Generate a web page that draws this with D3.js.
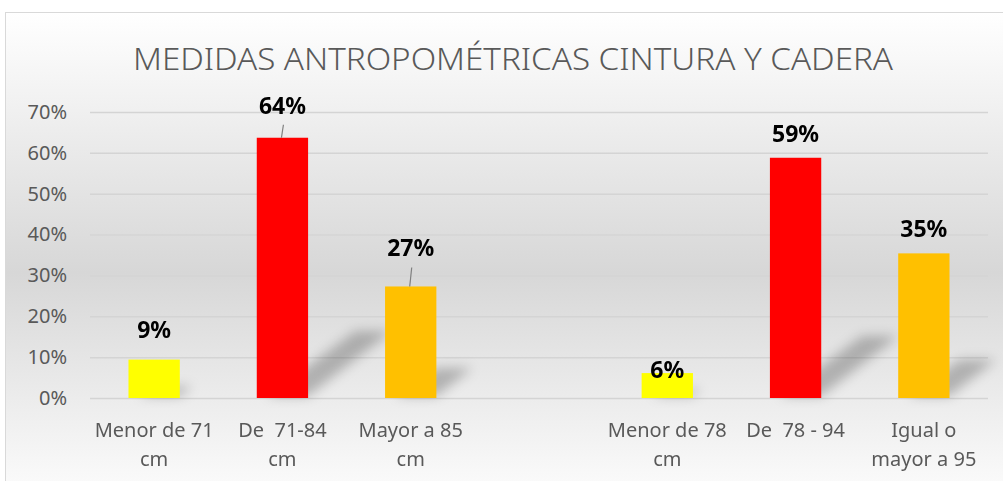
<!DOCTYPE html>
<html>
<head>
<meta charset="utf-8">
<script src="https://cdn.jsdelivr.net/npm/d3@7"></script>
<style>
  body { margin: 0; background: #fff; }
  svg { display: block; }
  text { font-family: "Noto Sans", "Open Sans", sans-serif; }
</style>
</head>
<body>
<div id="chart"></div>
<script>
// medidas de cintura y cadera (porcentaje por rango)
const title = 'MEDIDAS ANTROPOMÉTRICAS CINTURA Y CADERA';
const categories = ['Menor de 71\ncm', 'De  71-84\ncm', 'Mayor a 85\ncm', ' ', 'Menor de 78\ncm', 'De  78 - 94', 'Igual o\nmayor a 95'];
const values = [0.094, 0.637, 0.273, null, 0.061, 0.588, 0.354];
const colors = ['#ffff00', '#ff0000', '#ffc000', 'none', '#ffff00', '#ff0000', '#ffc000'];
const yTicks = [0, 0.1, 0.2, 0.3, 0.4, 0.5, 0.6, 0.7];

// etiquetas movidas a mano (px sobre la barra) y si llevan linea guia
const labelLift = [22, 24, 30, 0, -5, 16, 16];
const leader = [false, true, true, false, false, false, false];

const width = 1003;
const height = 481;
const margin = {top: 112, left: 90, bottom: 83, right: 15};

const x = d3.scaleBand()
  .domain(categories)
  .range([margin.left, width - margin.right])
  .paddingInner(0.6)
  .paddingOuter(0.3);

const y = d3.scaleLinear()
  .domain([0, 0.7])
  .range([height - margin.bottom, margin.top]);

const fmt = d3.format('.0%');

const svg = d3.select('#chart').append('svg')
  .attr('width', width)
  .attr('height', height);

const defs = svg.append('defs');
const grad = defs.append('linearGradient')
  .attr('id', 'bg').attr('x1', 0).attr('y1', 0).attr('x2', 0).attr('y2', 1);
grad.append('stop').attr('offset', '0%').attr('stop-color', '#ffffff');
grad.append('stop').attr('offset', '52%').attr('stop-color', '#d7d7d7');
grad.append('stop').attr('offset', '100%').attr('stop-color', '#ffffff');

defs.append('filter').attr('id', 'blur')
  .attr('x', '-50%').attr('y', '-50%').attr('width', '200%').attr('height', '200%')
  .append('feGaussianBlur').attr('stdDeviation', 6);

// fondo y marco
svg.append('rect')
  .attr('x', 5.5).attr('y', 12.5)
  .attr('width', width + 20).attr('height', height + 20)
  .attr('fill', 'url(#bg)')
  .attr('stroke', '#d9d9d9');

svg.append('text')
  .attr('x', (133 + 893) / 2).attr('y', 70)
  .attr('text-anchor', 'middle')
  .attr('font-size', 32)
  .attr('font-weight', 300)
  .attr('fill', '#595959')
  .attr('textLength', 760)
  .attr('lengthAdjust', 'spacingAndGlyphs')
  .text(title);

// eje y + lineas de cuadricula
const yAxis = g => g
  .attr('transform', `translate(${margin.left}, 0)`)
  .call(d3.axisLeft(y).tickValues(yTicks).tickFormat(fmt).tickSize(0).tickPadding(23))
  .call(g => g.select('.domain').remove())
  .call(g => g.selectAll('text')
    .attr('font-size', 20)
    .attr('fill', '#595959')
    .style('font-family', '"Noto Sans", sans-serif'))
  .call(g => g.selectAll('.tick').append('line')
    .attr('x1', 0).attr('x2', width - margin.right - margin.left)
    .attr('stroke', '#d4d4d4').attr('stroke-width', 1.5));

svg.append('g').call(yAxis);

const data = categories.map((c, i) => ({cat: c, value: values[i], color: colors[i], lift: labelLift[i], leader: leader[i]}))
  .filter(d => d.value != null);

// sombras en perspectiva detras de las barras
svg.append('g')
  .attr('filter', 'url(#blur)')
  .selectAll('path').data(data).enter().append('path')
  .attr('d', d => {
    const x0 = x(d.cat) + x.bandwidth() * 0.2;
    const x1 = x(d.cat) + x.bandwidth();
    const b = y(0) - 2;
    const h = y(0) - y(d.value);
    const dx = h * 0.32;
    const dy = h * 0.25;
    return `M${x0},${b} L${x1},${b} L${x1 + dx},${b - dy} L${x1 + dx - x.bandwidth() * 0.7},${b - dy} Z`;
  })
  .attr('fill', '#000')
  .attr('opacity', 0.24);

svg.append('g')
  .selectAll('rect').data(data).enter().append('rect')
  .attr('x', d => x(d.cat))
  .attr('y', d => y(d.value))
  .attr('width', x.bandwidth())
  .attr('height', d => y(0) - y(d.value))
  .attr('fill', d => d.color);

// lineas guia
svg.append('g')
  .selectAll('line').data(data.filter(d => d.leader)).enter().append('line')
  .attr('x1', d => x(d.cat) + x.bandwidth() / 2 + 1)
  .attr('x2', d => x(d.cat) + x.bandwidth() / 2 - 1)
  .attr('y1', d => y(d.value) - d.lift + 11)
  .attr('y2', d => y(d.value))
  .attr('stroke', '#7f7f7f')
  .attr('stroke-width', 1.2);

svg.append('g')
  .selectAll('text').data(data).enter().append('text')
  .attr('x', d => x(d.cat) + x.bandwidth() / 2)
  .attr('y', d => y(d.value) - d.lift)
  .attr('text-anchor', 'middle')
  .attr('font-size', 23)
  .attr('font-weight', 'bold')
  .attr('fill', '#000')
  .text(d => fmt(d.value));

// etiquetas de categoria en dos lineas
const xLabels = svg.append('g')
  .selectAll('text').data(categories).enter().append('text')
  .attr('x', d => x(d) + x.bandwidth() / 2)
  .attr('y', 437)
  .attr('text-anchor', 'middle')
  .attr('font-size', 20)
  .attr('fill', '#595959')
  .style('white-space', 'pre');

xLabels.selectAll('tspan').data(d => d.split('\n')).enter().append('tspan')
  .attr('x', function() { return this.parentNode.getAttribute('x'); })
  .attr('dy', (d, i) => i ? 29 : 0)
  .text(d => d);
</script>
</body>
</html>
